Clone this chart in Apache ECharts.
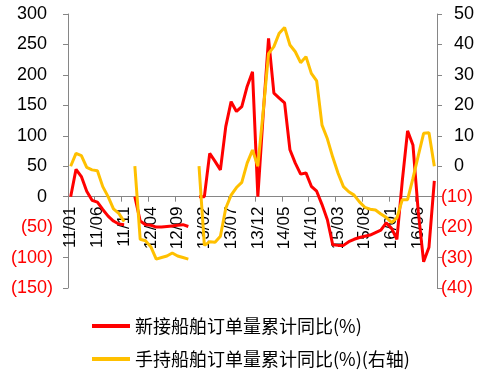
<!DOCTYPE html>
<html>
<head>
<meta charset="utf-8">
<script src="https://cdn.jsdelivr.net/npm/echarts@6/dist/echarts.min.js"></script>
<style>
html,body{margin:0;padding:0;background:#fff;}
#c{width:492px;height:373px;}
</style>
</head>
<body>
<div id="c"></div>
<script>
var categories = [
 '11/01','11/02','11/03','11/04','11/05','11/06','11/07','11/08','11/09','11/10','11/11','11/12',
 '12/01','12/02','12/03','12/04','12/05','12/06','12/07','12/08','12/09','12/10','12/11','12/12',
 '13/01','13/02','13/03','13/04','13/05','13/06','13/07','13/08','13/09','13/10','13/11','13/12',
 '14/01','14/02','14/03','14/04','14/05','14/06','14/07','14/08','14/09','14/10','14/11','14/12',
 '15/01','15/02','15/03','15/04','15/05','15/06','15/07','15/08','15/09','15/10','15/11','15/12',
 '16/01','16/02','16/03','16/04','16/05','16/06','16/07','16/08','16/09'
];
var newOrders = [
 0,45,33,9,-6,-9,-21,-32,-40,-45,-46,null,
 0,-40,-46,-47,-50,-50,-49,-48,-47,-46,-49,null,
 0,0,71,58,44,115,156,140,148,181,205,0,
 135,260,170,162,154,77,55,37,39,17,9,-13,
 -38,-79,-80,-80,-74,-70,-67,-65,-63,-59,-55,-43,
 -52,-70,25,108,85,-25,-107,-83,26
];
var holdOrders = [
 0,4.2,3.5,-0.4,-1.2,-1.5,-6.7,-10,-14,-15.5,-18.2,null,
 0,-24,-24.5,-26.5,-30.5,-30,-29.5,-28.5,-29.5,-30,-30.5,null,
 0,-26,-24.8,-25,-23,-13.8,-9.5,-7,-5.3,1,5.3,0,
 18,37,39.3,43.7,45.6,39.8,37.6,34,36,30.5,28,13.5,
 9,3,-2.3,-6.7,-8.4,-9.5,-11.7,-13.5,-14.1,-14.4,-15.7,-16.8,
 -18.5,-17,-11,-11,-4,3.5,10.8,11,0
];
var leftTicks = {min:-150, max:300, interval:50};
var rightTicks = {min:-40, max:50, interval:10};
var seriesNames = ['新接船舶订单量累计同比(%)','手持船舶订单量累计同比(%)(右轴)'];

var FONT = 'Liberation Sans, Arial, sans-serif';
var axisGray = '#868686';
var GRID = {left:68, right:55, top:14, bottom:85};
var plotH = 373 - GRID.top - GRID.bottom;
// distance of the left axis zero line from the bottom of the plot
var zeroFromBottom = plotH * (0 - leftTicks.min) / (leftTicks.max - leftTicks.min);

function fmtLeft(v){ return v < 0 ? '{n|(' + (-v) + ')}' : '{p|' + v + '}'; }
function fmtRight(v){ return v < 0 ? '{n|(' + (-v) + ')}' : '{q|' + v + '}'; }
var labelRich = {
  n:{color:'#FF0000', fontSize:18, fontFamily:FONT},
  p:{color:'#000000', fontSize:18, fontFamily:FONT, padding:[0,6,0,0]},
  q:{color:'#000000', fontSize:18, fontFamily:FONT, padding:[0,0,0,13]}
};

var chart = echarts.init(document.getElementById('c'), null, {renderer:'canvas'});
chart.setOption({
  animation:false,
  backgroundColor:'#ffffff',
  grid:{left:GRID.left, right:GRID.right, top:GRID.top, bottom:GRID.bottom, containLabel:false, outerBoundsMode:'none'},
  legend:{
    orient:'vertical', left:87, top:312, itemGap:15,
    icon:'rect', itemWidth:38, itemHeight:4,
    textStyle:{fontFamily:'Noto Sans CJK SC', fontSize:18, color:'#000'},
    data:seriesNames
  },
  xAxis:{
    type:'category', data:categories, boundaryGap:true,
    offset:-zeroFromBottom,
    axisLine:{onZero:false, lineStyle:{color:axisGray, width:1}},
    axisTick:{show:true, interval:4, length:5, alignWithLabel:false, lineStyle:{color:axisGray}},
    axisLabel:{interval:4, rotate:90, fontSize:17, fontFamily:FONT, color:'#000', margin:10},
    splitLine:{show:false}
  },
  yAxis:[
    {type:'value', min:leftTicks.min, max:leftTicks.max, interval:leftTicks.interval,
     axisLine:{show:true, lineStyle:{color:axisGray}},
     axisTick:{show:true, length:5, lineStyle:{color:axisGray}},
     axisLabel:{formatter:fmtLeft, rich:labelRich, fontSize:18, fontFamily:FONT, margin:15},
     splitLine:{show:false}},
    {type:'value', min:rightTicks.min, max:rightTicks.max, interval:rightTicks.interval, position:'right',
     axisLine:{show:true, lineStyle:{color:axisGray}},
     axisTick:{show:true, length:5, lineStyle:{color:axisGray}},
     axisLabel:{formatter:fmtRight, rich:labelRich, fontSize:18, fontFamily:FONT, margin:4},
     splitLine:{show:false}}
  ],
  series:[
    {name:seriesNames[0], type:'line', yAxisIndex:0, data:newOrders, symbol:'none', connectNulls:false,
     itemStyle:{color:'#FF0000'}, lineStyle:{color:'#FF0000', width:3}},
    {name:seriesNames[1], type:'line', yAxisIndex:1, data:holdOrders, symbol:'none', connectNulls:false,
     itemStyle:{color:'#FFC000'}, lineStyle:{color:'#FFC000', width:3}}
  ]
});
</script>
</body>
</html>
